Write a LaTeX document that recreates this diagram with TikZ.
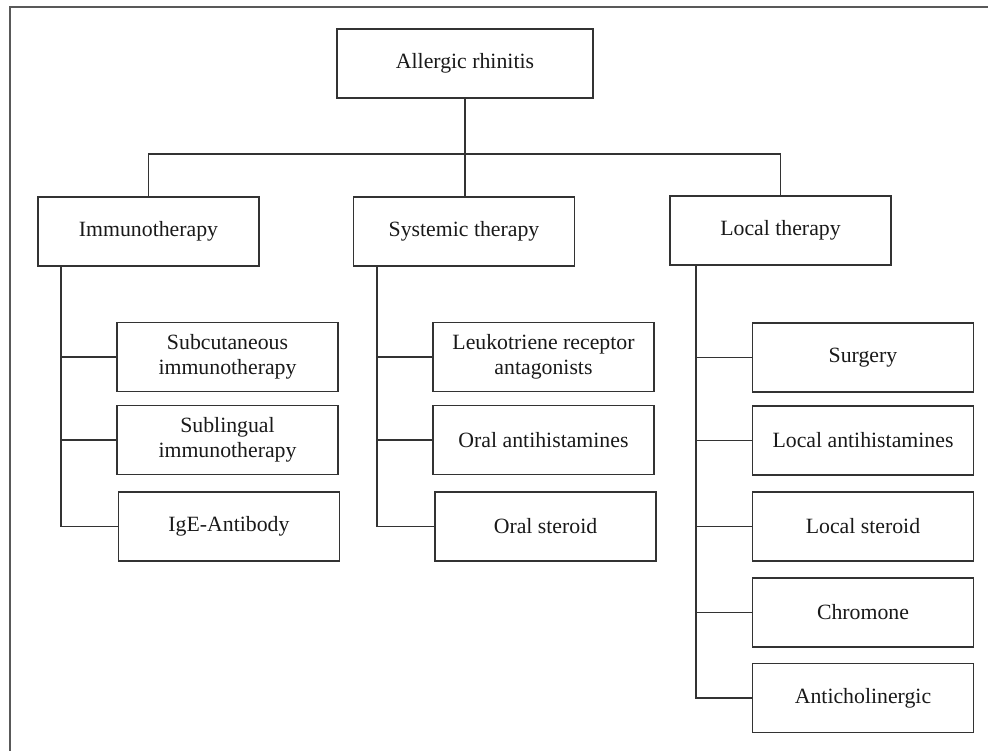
\documentclass[tikz,border=0pt]{standalone}
\usepackage{fontspec}
\setmainfont{Liberation Serif}
\usepackage{tikz}
\usetikzlibrary{positioning}

\tikzset{
  box/.style={draw=black!80, line width=0.8pt, minimum width=4.42cm, minimum height=1.38cm,
    align=center, inner sep=2pt, font=\fontsize{12.4}{14.3}\selectfont, text=black!90},
  link/.style={draw=black!80, line width=0.8pt}
}

\begin{document}
\begin{tikzpicture}[x=0.02cm, y=-0.02cm]
\useasboundingbox (0,0) rectangle (988,751);
% frame
\draw[black!65, line width=0.7pt] (10,751) -- (10,7) -- (988,7);
% top
\node[box, minimum width=5.12cm] (root) at (465,63.5) {Allergic rhinitis};
\node[box] (imm) at (148.5,231.5) {Immunotherapy};
\node[box] (sys) at (464,231.5) {Systemic therapy};
\node[box] (loc) at (780.5,230.5) {Local therapy};
\coordinate (bus) at (465,154);
\draw[link] (root.south) -- (bus);
\draw[link] (imm.north) |- (loc.north |- bus) -- (loc.north);
\draw[link] (bus) -- (bus |- sys.north);
% Immunotherapy
\node[box] (scit) at (227.5,357) {Subcutaneous\\immunotherapy};
\node[box] (slit) at (227.5,440) {Sublingual\\immunotherapy};
\node[box] (ige) at (229,526.5) {IgE-Antibody};
\coordinate (t1) at (61,266);
\draw[link] (t1) |- (ige.west);
\foreach \n in {scit,slit}
  \draw[link] (t1 |- \n.west) -- (\n.west);
% Systemic therapy
\node[box] (ltra) at (543.5,357) {Leukotriene receptor\\antagonists};
\node[box] (oah) at (543.5,440) {Oral antihistamines};
\node[box] (ost) at (545.5,526.5) {Oral steroid};
\coordinate (t2) at (377,266);
\draw[link] (t2) |- (ost.west);
\foreach \n in {ltra,oah}
  \draw[link] (t2 |- \n.west) -- (\n.west);
% Local therapy
\node[box] (surg) at (863,357.5) {Surgery};
\node[box] (lah) at (863,440.5) {Local antihistamines};
\node[box] (lst) at (863,526.5) {Local steroid};
\node[box] (chr) at (863,612.5) {Chromone};
\node[box] (ach) at (863,698) {Anticholinergic};
\coordinate (t3) at (696,265);
\draw[link] (t3) |- (ach.west);
\foreach \n in {surg,lah,lst,chr}
  \draw[link] (t3 |- \n.west) -- (\n.west);
\end{tikzpicture}
\end{document}
